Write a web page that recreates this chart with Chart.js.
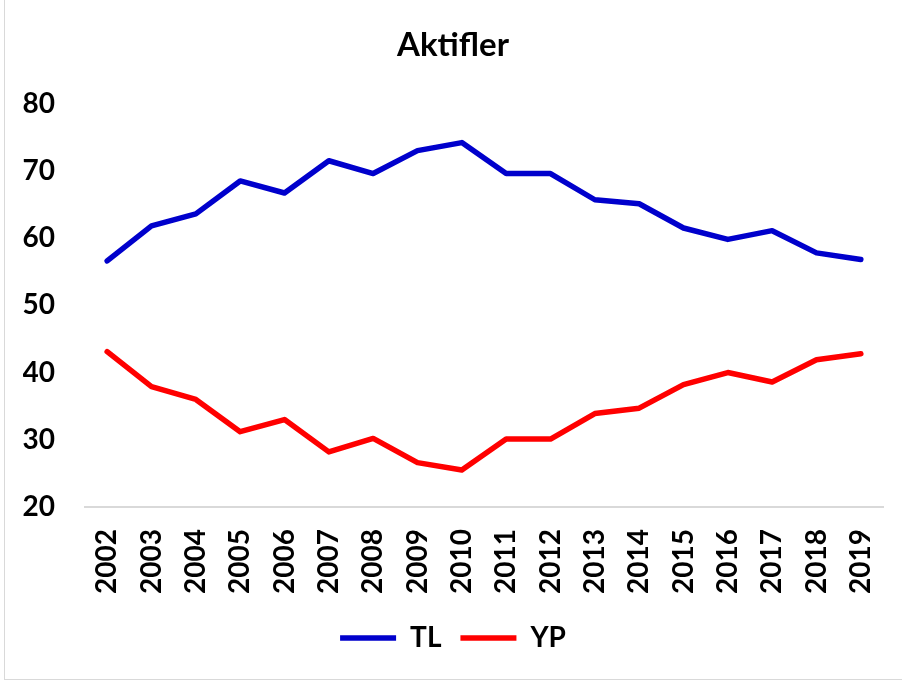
<!DOCTYPE html>
<html>
<head>
<meta charset="utf-8">
<script src="https://cdn.jsdelivr.net/npm/chart.js@4"></script>
<style>
  html, body { margin: 0; padding: 0; background: #fff; }
  #wrap {
    position: absolute; left: 4px; top: 0;
    width: 897px; height: 679px;
    border-left: 1px solid #d9d9d9; border-bottom: 1px solid #d9d9d9;
  }
</style>
</head>
<body>
<div id="wrap"><canvas id="myChart" width="897" height="679"></canvas></div>
<script>
const years = ['2002', '2003', '2004', '2005', '2006', '2007', '2008', '2009', '2010',
  '2011', '2012', '2013', '2014', '2015', '2016', '2017', '2018', '2019'];
const tlValues = [56.6, 61.8, 63.6, 68.5, 66.7, 71.5, 69.6, 73.0, 74.2,
  69.6, 69.6, 65.7, 65.1, 61.5, 59.8, 61.1, 57.8, 56.8];
const ypValues = [43.1, 37.9, 36.0, 31.2, 33.0, 28.2, 30.2, 26.6, 25.5,
  30.1, 30.1, 33.9, 34.7, 38.2, 40.0, 38.6, 41.9, 42.8];

const font = 'Lato, "Open Sans", sans-serif';
const ctx = document.getElementById('myChart').getContext('2d');

function lineSet(label, data, color) {
  return {
    label,
    data,
    borderColor: color,
    backgroundColor: color,
    borderWidth: 5.5,
    pointRadius: 0,
    tension: 0,
    borderCapStyle: 'round',
    borderJoinStyle: 'round',
    fill: false
  };
}

const chart = new Chart(ctx, {
  type: 'line',
  data: {
    labels: years,
    datasets: [
      lineSet('TL', tlValues, '#0000cc'),
      lineSet('YP', ypValues, '#ff0000')
    ]
  },
  options: {
    responsive: false,
    animation: false,
    layout: { padding: { left: 18, right: 19, top: 0, bottom: 17 } },
    plugins: {
      title: {
        display: true,
        text: 'Aktifler',
        color: '#000',
        font: { family: font, size: 33, weight: 'bold' },
        padding: { top: 26, bottom: 38 }
      },
      legend: {
        position: 'bottom',
        labels: {
          color: '#000',
          font: { family: font, size: 28, weight: 'bold' },
          boxWidth: 56,
          boxHeight: 0,
          padding: 19,
          generateLabels: (c) => c.data.datasets.map((ds, i) => ({
            text: ds.label,
            strokeStyle: ds.borderColor,
            fillStyle: ds.borderColor,
            lineWidth: 5.5,
            lineCap: 'round',
            datasetIndex: i
          }))
        }
      },
      tooltip: { enabled: false }
    },
    scales: {
      x: {
        offset: true,
        // keep the axis where the reference has it
        afterFit: (scale) => {
          scale.height = 98;
          scale.paddingLeft = 0;
          scale.paddingRight = 0;
        },
        grid: { display: false, drawTicks: false },
        border: { display: true, color: '#d9d9d9', width: 2 },
        ticks: {
          color: '#000',
          font: { family: font, size: 28, weight: 'bold' },
          minRotation: 90,
          maxRotation: 90,
          padding: 22
        }
      },
      y: {
        min: 20,
        max: 80,
        afterFit: (scale) => { scale.width = 62; },
        grid: { display: false, drawTicks: false },
        border: { display: false },
        ticks: {
          stepSize: 10,
          color: '#000',
          font: { family: font, size: 28, weight: 'bold' },
          padding: 30
        }
      }
    }
  }
});
</script>
</body>
</html>
